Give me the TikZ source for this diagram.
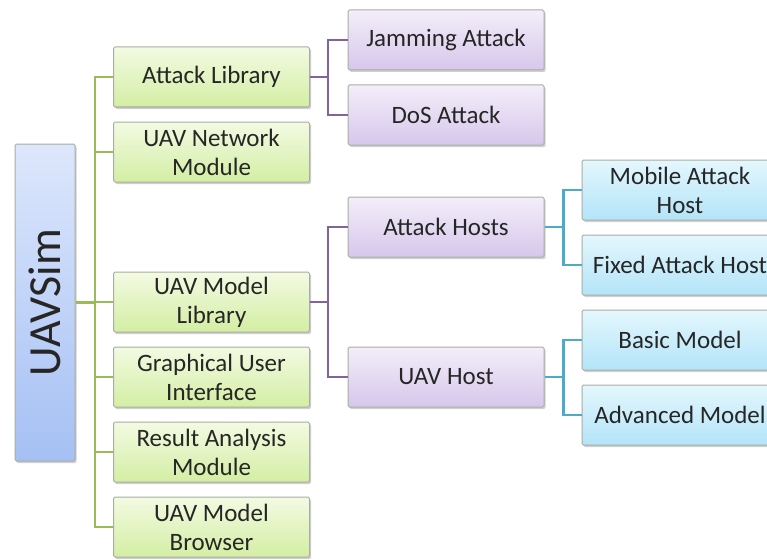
\documentclass[tikz,border=0pt]{standalone}
\usepackage{fontspec}
\setmainfont{Carlito}
\usetikzlibrary{shadows}
\definecolor{simText}{HTML}{262626}
\definecolor{simGreenTop}{HTML}{F3FAE2}
\definecolor{simGreenBot}{HTML}{D3EEA4}
\definecolor{simGreenLine}{HTML}{9BBB59}
\definecolor{simPurpTop}{HTML}{F3EEF9}
\definecolor{simPurpBot}{HTML}{D6C7EB}
\definecolor{simPurpLine}{HTML}{8064A2}
\definecolor{simAquaTop}{HTML}{E4F7FD}
\definecolor{simAquaBot}{HTML}{B3E4F8}
\definecolor{simAquaLine}{HTML}{4BACC6}
\definecolor{simBlueTop}{HTML}{DDE7FC}
\definecolor{simBlueBot}{HTML}{A5C0F4}
\definecolor{simBorder}{HTML}{A9ADA3}
\tikzset{
  sim box/.style={rectangle, rounded corners=1.5pt, draw=simBorder, line width=1pt,
    text=simText, font=\fontsize{25}{29}\selectfont, align=center,
    minimum width=196, minimum height=60, inner sep=0pt,
    drop shadow={shadow xshift=1.5pt, shadow yshift=-2pt, opacity=0.3, fill=black!60}},
  sim link/.style={line width=2.4pt},
}

\begin{document}
\begin{tikzpicture}[x=1pt, y=-1pt,
  lvlone/.style={sim box, top color=simGreenTop, bottom color=simGreenBot},
  lvltwo/.style={sim box, top color=simPurpTop, bottom color=simPurpBot},
  lvlthree/.style={sim box, top color=simAquaTop, bottom color=simAquaBot},
  glink/.style={sim link, draw=simGreenLine},
  plink/.style={sim link, draw=simPurpLine},
  alink/.style={sim link, draw=simAquaLine}
]
  \useasboundingbox (0,0) rectangle (767,559);
  \fill[white] (0,0) rectangle (767,559);

  % root
  \node[sim box, top color=simBlueTop, bottom color=simBlueBot,
    minimum width=60, minimum height=317, font=\fontsize{46}{50}\selectfont]
    (root) at (45,302.5) {\rotatebox{90}{UAVSim}};

  % first level
  \node[lvlone] (attlib)  at (211.5,77)  {Attack Library};
  \node[lvlone] (netmod)  at (211.5,152) {UAV Network\\Module};
  \node[lvlone] (modlib)  at (211.5,302) {UAV Model\\Library};
  \node[lvlone] (gui)     at (211.5,377) {Graphical User\\Interface};
  \node[lvlone] (resmod)  at (211.5,452) {Result Analysis\\Module};
  \node[lvlone] (browser) at (211.5,527) {UAV Model\\Browser};

  % second level
  \node[lvltwo] (jam)     at (446,40)  {Jamming Attack};
  \node[lvltwo] (dos)     at (446,115) {DoS Attack};
  \node[lvltwo] (hosts)   at (446,227) {Attack Hosts};
  \node[lvltwo] (uavhost) at (446,377) {UAV Host};

  % third level
  \node[lvlthree] (mobile)   at (680,190) {Mobile Attack\\Host};
  \node[lvlthree] (fixed)    at (680,265) {Fixed Attack Host};
  \node[lvlthree] (basic)    at (680,340) {Basic Model};
  \node[lvlthree] (advanced) at (680,415) {Advanced Model};

  % connectors
  \coordinate (gtrunk) at (95,302.5);
  \draw[glink] (root.east) -- (gtrunk);
  \foreach \n in {attlib,netmod,modlib,gui,resmod,browser}
    \draw[glink] (\n.west) -| (gtrunk);

  \foreach \n in {jam,dos}
    \draw[plink] (attlib.east) -- ++(18,0) |- (\n.west);
  \foreach \n in {hosts,uavhost}
    \draw[plink] (modlib.east) -- ++(18,0) |- (\n.west);

  \foreach \n in {mobile,fixed}
    \draw[alink] (hosts.east) -- ++(19,0) |- (\n.west);
  \foreach \n in {basic,advanced}
    \draw[alink] (uavhost.east) -- ++(19,0) |- (\n.west);
\end{tikzpicture}
\end{document}
